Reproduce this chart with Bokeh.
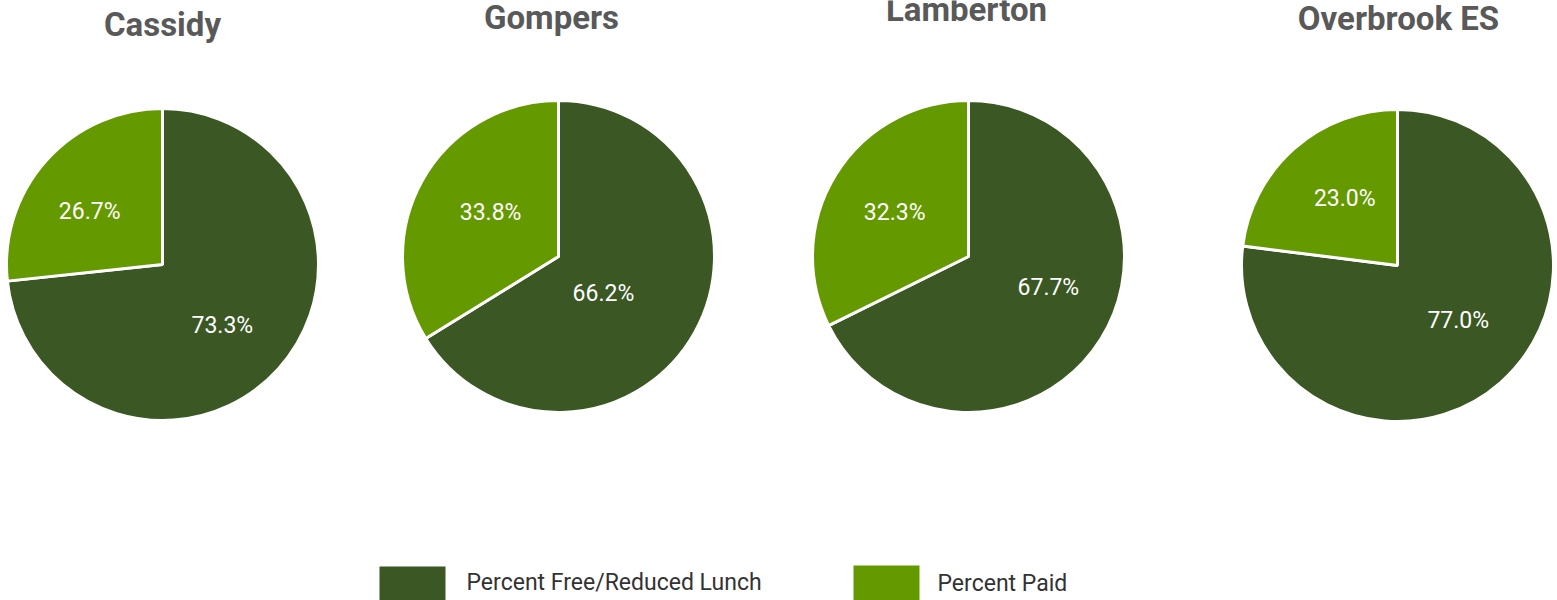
import math
from bokeh.plotting import figure
from bokeh.models import Range1d, ColumnDataSource
from bokeh.core.properties import value
from bokeh.embed import file_html
from bokeh.resources import INLINE

# ---- data ----
schools = ["Cassidy", "Gompers", "Lamberton", "Overbrook ES"]
free_reduced = [73.3, 66.2, 67.7, 77.0]
paid = [26.7, 33.8, 32.3, 23.0]
series_names = ["Percent Free/Reduced Lunch", "Percent Paid"]
series_colors = ["#3a5724", "#659900"]

# ---- layout (screen pixel coords) ----
W, H = 1557, 600
center_x = [162, 558, 968, 1397]
center_y = [264, 256, 256, 265]       # screen y
radius = 156
title_x = [162, 551, 966, 1398]
title_mid_y = [24, 17, 9, 18]         # screen y of title cap centre
label_frac = 0.55
# small pixel nudges of the slice labels (free, paid) per pie: (dx, dy screen)
label_nudge = [[(-4, 4), (-9, 4)],
               [(-30, -5), (7, -2)],
               [(7, -14), (-1, 1)],
               [(4, -9), (4, -3)]]

def sy(y):
    return H - y

p = figure(width=W, height=H, output_backend="svg", toolbar_location=None,
           x_range=Range1d(0, W), y_range=Range1d(0, H),
           min_border=0, background_fill_color="white", border_fill_color="white")
p.axis.visible = False
p.grid.visible = False
p.outline_line_color = None

top = math.pi / 2
for i, name in enumerate(schools):
    cx, cy = center_x[i], sy(center_y[i])
    vals = [free_reduced[i], paid[i]]
    total = sum(vals)
    f_ang = 2 * math.pi * vals[0] / total
    p_ang = 2 * math.pi * vals[1] / total
    # paid: from 12 o'clock counter-clockwise; free: clockwise from 12 o'clock
    starts = [top + p_ang, top]
    ends = [top + 2 * math.pi, top + p_ang]
    src = ColumnDataSource(dict(x=[cx, cx], y=[cy, cy], start=starts, end=ends,
                                color=series_colors))
    p.wedge(x="x", y="y", radius=radius, start_angle="start", end_angle="end",
            fill_color="color", line_color="white", line_width=3, source=src)
    mids = [top - f_ang / 2, top + p_ang / 2]
    lx = [cx + label_frac * radius * math.cos(a) + label_nudge[i][k][0]
          for k, a in enumerate(mids)]
    ly = [cy + label_frac * radius * math.sin(a) - label_nudge[i][k][1]
          for k, a in enumerate(mids)]
    txt = ["%.1f%%" % (v / total * 100) for v in vals]
    p.text(x=lx, y=ly, text=txt, text_color="white", text_font=value("Roboto"),
           text_font_size="23px", text_align="center", text_baseline="middle")
    p.text(x=[title_x[i]], y=[sy(title_mid_y[i])], text=[name],
           text_color="#595959", text_font=value("Roboto"), text_font_style="bold",
           text_font_size="33px", text_align="center", text_baseline="middle")

# ---- legend ----
leg_x = [379, 853]
leg_y = [566, 565]
leg_text_x = [466, 937]
leg_text_y = [582, 583]
for j in range(2):
    p.quad(left=[leg_x[j]], right=[leg_x[j] + 66], top=[sy(leg_y[j])], bottom=[sy(leg_y[j] + 36)],
           fill_color=series_colors[j], line_color=None)
    p.text(x=[leg_text_x[j]], y=[sy(leg_text_y[j])], text=[series_names[j]],
           text_color="#333333", text_font=value("Roboto"), text_font_size="23px",
           text_align="left", text_baseline="middle")

open("out.html", "w").write(file_html(p, INLINE))
